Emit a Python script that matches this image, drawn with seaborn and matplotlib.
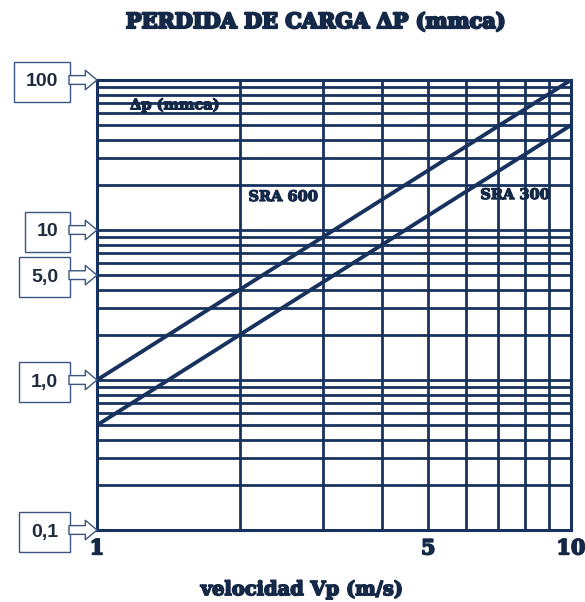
import numpy as np
import pandas as pd
import seaborn as sns
import matplotlib
matplotlib.use("Agg")
import matplotlib.pyplot as plt
import matplotlib.patheffects as pe
from matplotlib.ticker import FixedLocator, LogLocator, NullFormatter, FixedFormatter

# ---- data ----
velocity = [1, 10]
sra600 = [1.0, 100.0]
sra300 = [0.5, 50.0]
series_names = ["SRA 600", "SRA 300"]
x_ticks = [1, 5, 10]
x_tick_labels = ["1", "5", "10"]
y_ticks = [0.1, 1, 5, 10, 100]
y_tick_labels = ["0,1", "1,0", "5,0", "10", "100"]
title = "PERDIDA DE CARGA ΔP (mmca)"
xlabel = "velocidad Vp (m/s)"
inner_label = "Δp (mmca)"

navy = "#18325f"
dark = "#142848"

df = pd.DataFrame({
    "velocidad": velocity + velocity,
    "dp": sra600 + sra300,
    "serie": [series_names[0]] * len(velocity) + [series_names[1]] * len(velocity),
})

sns.set_style("white")
plt.rcParams["font.family"] = ["DejaVu Sans"]

fig = plt.figure(figsize=(5.85, 6.02), dpi=100)
ax = fig.add_axes([97 / 585, 1 - 530 / 602, 474 / 585, 450 / 602])

sns.lineplot(data=df, x="velocidad", y="dp", hue="serie",
             palette=[navy, navy], legend=False, linewidth=2.8, ax=ax)

ax.set_xscale("log")
ax.set_yscale("log")
ax.set_xlim(1, 10)
ax.set_ylim(0.1, 100)

ax.xaxis.set_major_locator(FixedLocator(x_ticks))
ax.xaxis.set_major_formatter(FixedFormatter(x_tick_labels))
ax.xaxis.set_minor_locator(LogLocator(base=10, subs=np.arange(2, 10)))
ax.xaxis.set_minor_formatter(NullFormatter())
ax.yaxis.set_major_locator(FixedLocator(y_ticks))
ax.yaxis.set_major_formatter(FixedFormatter(y_tick_labels))
ax.yaxis.set_minor_locator(LogLocator(base=10, subs=np.arange(2, 10)))
ax.yaxis.set_minor_formatter(NullFormatter())

ax.grid(which="both", color=navy, linewidth=2.0)
ax.set_axisbelow(True)
for s in ax.spines.values():
    s.set_color(navy)
    s.set_linewidth(2.2)

heavy = [pe.withStroke(linewidth=1.2, foreground=dark)]

ax.tick_params(which="both", length=0)
ax.tick_params(axis="x", pad=6)
ax.tick_params(axis="y", pad=28)
for lab in ax.get_xticklabels():
    lab.set_fontfamily("DejaVu Serif")
    lab.set_fontweight("bold")
    lab.set_fontsize(15)
    lab.set_color(dark)
    lab.set_path_effects(heavy)
for lab in ax.get_yticklabels():
    lab.set_fontfamily("Liberation Sans")
    lab.set_fontweight("bold")
    lab.set_fontsize(14)
    lab.set_color("#1e2a3e")
    lab.set_bbox(dict(boxstyle="square,pad=0.6", fc="white", ec="#3a5582", lw=1.0))

# block arrows from label boxes to axis
for yv in y_ticks:
    ax.annotate("", xy=(0, yv), xycoords=ax.get_yaxis_transform(),
                xytext=(-28, 0), textcoords="offset pixels",
                arrowprops=dict(arrowstyle="simple,head_length=0.6,head_width=1.0,tail_width=0.45",
                                mutation_scale=14, fc="white", ec="#3a5582", lw=1.0,
                                shrinkA=0, shrinkB=0),
                annotation_clip=False)

# in-plot labels
txt_kw = dict(fontfamily="DejaVu Serif", fontweight="bold", color=dark, ha="center", va="center",
              path_effects=[pe.withStroke(linewidth=0.9, foreground=dark)])
ax.text(1.46, 68, inner_label, fontsize=10.5, **txt_kw)
ax.text(2.47, 16.6, series_names[0], fontsize=10.5, **txt_kw)
ax.text(7.62, 17.1, series_names[1], fontsize=10.5, **txt_kw)

ax.set_xlabel(xlabel, fontfamily="DejaVu Serif", fontweight="bold", fontsize=14, color=dark,
              path_effects=heavy)
ax.xaxis.set_label_coords((302 - 97) / 474, -(590 - 530) / 450)
ax.xaxis.label.set_va("center")
ax.set_ylabel("")

fig.text(316 / 585, 1 - 22 / 602, title, fontfamily="DejaVu Serif", fontweight="bold",
         fontsize=15, color=dark, ha="center", va="center",
         path_effects=[pe.withStroke(linewidth=1.6, foreground=dark)])

fig.savefig("out.png", dpi=100)
